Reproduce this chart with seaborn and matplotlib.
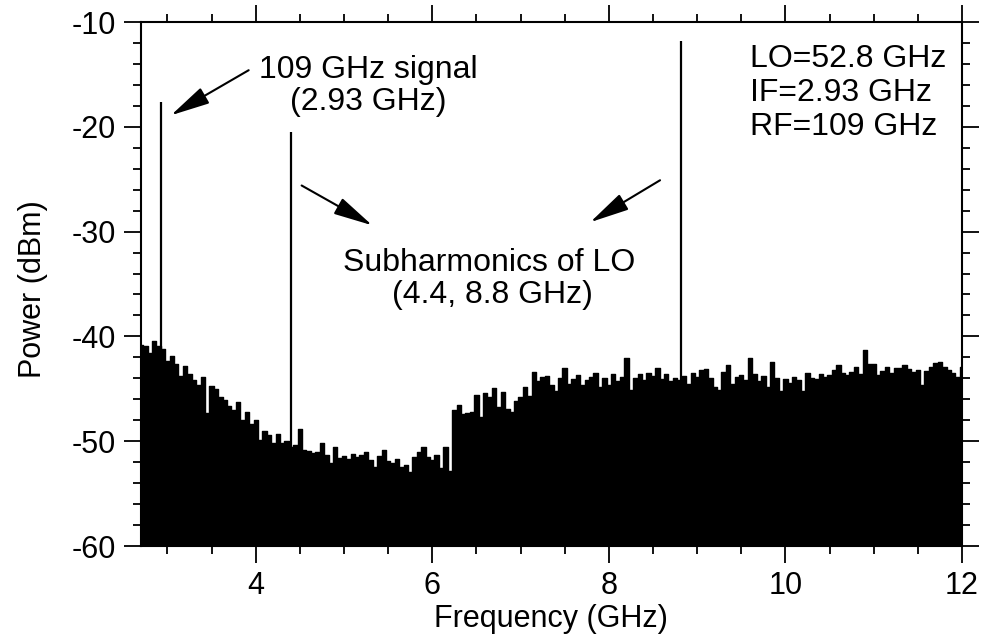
import numpy as np
import pandas as pd
import seaborn as sns
import matplotlib.pyplot as plt
from matplotlib.ticker import MultipleLocator

# spectrum analyser sweep, one bin every 0.05 GHz from 2.70 to 12.00 GHz
f_start = 2.70
f_step = 0.05
noise_dbm = [
    -40.8, -40.9, -41.6, -40.4, -40.9, -41.2, -42.3, -41.9, -42.6, -43.8,
    -42.8, -43.6, -44.2, -44.6, -43.9, -47.3, -44.7, -45.0, -45.8, -46.1,
    -46.6, -47.0, -46.3, -48.0, -47.2, -48.4, -48.0, -49.9, -49.0, -49.4,
    -50.2, -49.3, -50.2, -50.0, -50.6, -50.4, -48.8, -50.8, -50.9, -51.1,
    -51.0, -50.2, -51.3, -52.1, -50.6, -51.6, -51.4, -51.7, -51.2, -51.5,
    -51.3, -51.0, -51.8, -52.5, -51.4, -50.8, -51.9, -52.1, -51.7, -52.5,
    -52.3, -52.9, -51.5, -51.0, -50.6, -51.5, -51.8, -51.3, -52.6, -50.6,
    -52.8, -47.0, -46.5, -47.4, -47.3, -47.2, -45.6, -47.7, -45.4, -45.8,
    -44.9, -46.7, -45.3, -46.9, -47.2, -46.2, -45.8, -44.8, -45.7, -43.4,
    -44.3, -43.9, -43.8, -44.6, -45.2, -44.0, -43.0, -44.5, -44.1, -43.7,
    -44.6, -44.2, -43.9, -43.5, -44.8, -44.0, -44.6, -43.6, -44.3, -43.9,
    -42.1, -45.1, -44.0, -43.6, -44.2, -43.5, -43.8, -43.0, -44.1, -43.6,
    -44.3, -44.0, -44.2, -43.8, -44.5, -43.5, -43.9, -43.2, -43.1, -44.0,
    -44.8, -45.1, -43.4, -42.7, -44.5, -43.9, -43.7, -44.2, -42.1, -43.6,
    -44.3, -43.8, -44.8, -42.4, -44.0, -45.2, -44.1, -44.4, -43.9, -44.2,
    -45.2, -43.5, -44.0, -44.1, -43.6, -43.9, -43.7, -43.2, -42.7, -43.5,
    -43.7, -43.4, -42.9, -43.6, -41.3, -42.6, -42.6, -43.7, -43.3, -42.9,
    -43.5, -43.0, -43.0, -42.7, -43.1, -43.4, -43.2, -44.6, -43.3, -42.9,
    -42.5, -42.4, -42.9, -43.2, -43.5, -43.9, -42.9,
]
freq_ghz = np.round(f_start + f_step * np.arange(len(noise_dbm)), 2)

# the three lines sticking out of the noise
spike_ghz = [2.93, 4.40, 8.82]
spike_dbm = [-17.6, -20.5, -11.8]

floor_dbm = -60
info_lines = ["LO=52.8 GHz", "IF=2.93 GHz", "RF=109 GHz"]

df = pd.DataFrame({"Frequency": freq_ghz, "Power": noise_dbm})

sns.set_theme(style="ticks")
plt.rcParams["font.family"] = ["Liberation Sans", "DejaVu Sans"]
plt.rcParams["axes.unicode_minus"] = False
plt.rcParams["text.color"] = "black"
plt.rcParams["axes.labelcolor"] = "black"
plt.rcParams["xtick.color"] = "black"
plt.rcParams["ytick.color"] = "black"

fig = plt.figure(figsize=(9.83, 6.38), dpi=100)
ax = fig.add_axes([0.1434, 0.1442, 0.8352, 0.8213])

ax.fill_between(df["Frequency"], floor_dbm, df["Power"], step="mid",
                color="black", linewidth=0)
sns.lineplot(data=df, x="Frequency", y="Power", drawstyle="steps-mid",
             color="black", linewidth=1.0, ax=ax)
ax.vlines(spike_ghz, floor_dbm, spike_dbm, color="black", linewidth=1.6)

ax.set_xlim(2.7, 12)
ax.set_ylim(-60, -10)
ax.xaxis.set_major_locator(MultipleLocator(2))
ax.xaxis.set_minor_locator(MultipleLocator(0.5))
ax.yaxis.set_major_locator(MultipleLocator(10))
ax.yaxis.set_minor_locator(MultipleLocator(2))
ax.tick_params(which="both", direction="out", top=True, right=True,
               color="black", labelcolor="black", width=1.3)
ax.tick_params(which="major", length=12, labelsize=22, pad=6)
ax.tick_params(which="minor", length=6)
for sp in ax.spines.values():
    sp.set_linewidth(1.5)
    sp.set_color("black")

ax.set_xlabel("Frequency (GHz)", fontsize=22, color="black")
ax.set_ylabel("Power (dBm)", fontsize=22, color="black")
ax.xaxis.set_label_coords(0.4994, -0.11)
ax.yaxis.set_label_coords(-0.113, 0.49)

txt = dict(fontsize=23, color="black")
ax.text(5.27, -15.3, "109 GHz signal", ha="center", va="baseline", **txt)
ax.text(5.27, -18.4, "(2.93 GHz)", ha="center", va="baseline", **txt)
ax.text(6.64, -33.8, "Subharmonics of LO", ha="center", va="baseline", **txt)
ax.text(6.68, -36.8, "(4.4, 8.8 GHz)", ha="center", va="baseline", **txt)
for i, line in enumerate(info_lines):
    ax.text(9.60, -14.3 - 3.25 * i, line, ha="left", va="baseline", **txt)

arrow = dict(arrowstyle="-|>,head_length=1.1,head_width=0.25",
             mutation_scale=22, color="black", lw=1.5, shrinkA=0, shrinkB=0)
ax.annotate("", xy=(3.04, -18.9), xytext=(3.92, -14.6), arrowprops=arrow)
ax.annotate("", xy=(5.32, -29.4), xytext=(4.52, -25.6), arrowprops=arrow)
ax.annotate("", xy=(7.79, -29.1), xytext=(8.58, -25.1), arrowprops=arrow)

fig.savefig("out.png", dpi=100)
